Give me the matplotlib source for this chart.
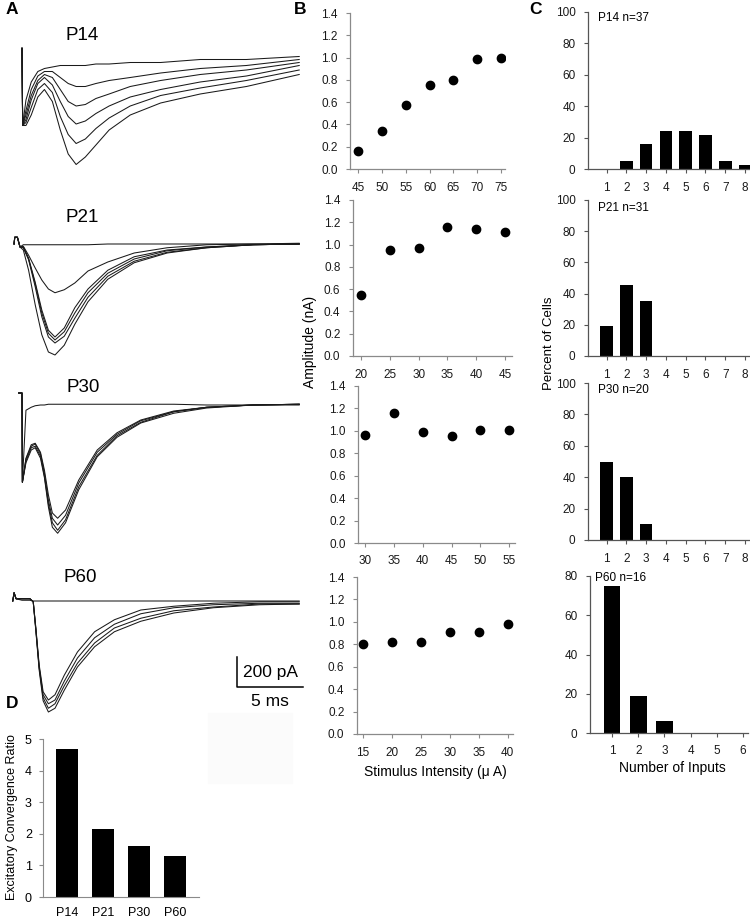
import matplotlib
matplotlib.use('Agg')
import matplotlib.pyplot as plt
from matplotlib.patches import Rectangle

plt.rcParams['font.family'] = ['Liberation Sans', 'DejaVu Sans']

W, H = 750, 917

# ---------------- panel A: evoked currents (time in ms, current in pA vs. baseline)
t_p14 = [0, 0.05, 0.3, 0.7, 1.2, 1.7, 2.3, 2.9, 3.5, 4.1, 4.8, 5.6, 6.6, 8.2, 10.5, 13.5, 17, 21]
p14_traces = [
    [45, -470, -300, -180, -110, -90, -80, -70, -70, -70, -70, -60, -60, -50, -50, -30, -30, -10],
    [45, -470, -370, -230, -140, -110, -110, -150, -190, -210, -210, -190, -170, -150, -120, -90, -70, -30],
    [45, -470, -400, -270, -170, -130, -150, -230, -310, -340, -330, -290, -260, -210, -170, -130, -100, -50],
    [45, -470, -430, -300, -190, -150, -200, -310, -410, -460, -440, -390, -340, -280, -230, -180, -140, -70],
    [45, -470, -450, -350, -230, -190, -250, -410, -530, -590, -560, -490, -420, -340, -270, -220, -170, -100],
    [45, -470, -470, -400, -280, -230, -310, -500, -660, -730, -680, -600, -500, -400, -320, -260, -210, -130],
]

t_p21 = [-0.6, -0.55, -0.35, -0.15, 0.1, 0.5, 1.0, 1.5, 2.0, 2.5, 3.2, 4.0, 5.0, 6.5, 8.5, 11, 14, 17.5, 21]
p21_traces = [
    [0, 45, 45, -20, -5, -5, -5, -5, -5, -5, -5, -5, -5, 0, 0, 0, 0, 0, 5],
    [0, 45, 45, -20, -15, -75, -160, -240, -300, -325, -305, -260, -180, -120, -60, -25, -5, 0, 0],
    [0, 45, 45, -20, -20, -95, -255, -440, -575, -620, -560, -425, -300, -175, -85, -40, -20, -5, 0],
    [0, 45, 45, -20, -20, -100, -265, -460, -595, -640, -585, -460, -325, -195, -100, -45, -20, -5, 0],
    [0, 45, 45, -20, -25, -105, -285, -485, -620, -660, -615, -495, -355, -215, -115, -55, -25, -5, 0],
    [0, 45, 45, -20, -40, -175, -405, -605, -720, -740, -675, -535, -385, -235, -125, -60, -25, -5, 0],
]

t_p30 = [-0.25, 0, 0.03, 0.3, 0.7, 1.0, 1.4, 1.7, 2.0, 2.3, 2.7, 3.3, 4.3, 5.7, 7.2, 9, 11.5, 14, 17.5, 21]
p30_traces = [
    [80, 80, -515, -35, -15, -5, 0, 0, 5, 5, 5, 5, 5, 5, 5, 5, 5, 0, 0, 0],
    [80, 80, -515, -355, -265, -255, -315, -435, -600, -720, -755, -700, -500, -300, -185, -100, -40, -15, 0, 5],
    [80, 80, -515, -360, -275, -260, -325, -455, -635, -755, -800, -735, -520, -315, -195, -105, -45, -15, 0, 5],
    [80, 80, -515, -375, -285, -275, -340, -475, -660, -785, -835, -765, -545, -335, -205, -115, -45, -15, 0, 5],
    [80, 80, -515, -385, -300, -285, -355, -485, -680, -815, -855, -785, -565, -345, -215, -120, -55, -20, 0, 5],
]

t_p60 = [-0.7, -0.6, -0.45, 0, 0.6, 0.85, 1.05, 1.3, 1.6, 2.0, 2.5, 3.2, 4.2, 5.5, 7, 9, 11.5, 14.5, 18, 21]
p60_traces = [
    [0, 55, 15, 5, 5, 0, 0, 0, 0, 0, 0, 0, 0, 0, 0, 0, 0, 0, 0, 0],
    [0, 55, 15, 15, 15, -5, -180, -425, -605, -660, -625, -495, -340, -205, -125, -60, -35, -15, -5, -5],
    [0, 55, 15, 15, 15, -5, -185, -440, -625, -685, -660, -535, -380, -245, -155, -85, -45, -25, -15, -15],
    [0, 55, 15, 15, 15, -5, -195, -445, -645, -715, -685, -565, -415, -280, -180, -115, -65, -40, -20, -20],
    [0, 55, 15, 15, 15, -5, -200, -460, -665, -740, -715, -595, -440, -305, -205, -135, -80, -45, -25, -20],
]

a_ages = ['P14', 'P21', 'P30', 'P60']

# ---------------- panel B: amplitude vs stimulus intensity
b_intensity = [
    [45, 50, 55, 60, 65, 70, 75],
    [20, 25, 30, 35, 40, 45],
    [30, 35, 40, 45, 50, 55],
    [15, 20, 25, 30, 35, 40],
]
b_amplitude = [
    [0.16, 0.34, 0.57, 0.75, 0.80, 0.99, 1.00],
    [0.55, 0.95, 0.97, 1.16, 1.14, 1.11],
    [0.96, 1.16, 0.99, 0.95, 1.01, 1.01],
    [0.80, 0.82, 0.82, 0.91, 0.91, 0.98],
]
b_ticks = [
    [45, 50, 55, 60, 65, 70, 75],
    [20, 25, 30, 35, 40, 45],
    [30, 35, 40, 45, 50, 55],
    [15, 20, 25, 30, 35, 40],
]

# ---------------- panel C: number of inputs per cell
c_inputs = [
    [1, 2, 3, 4, 5, 6, 7, 8],
    [1, 2, 3, 4, 5, 6, 7, 8],
    [1, 2, 3, 4, 5, 6, 7, 8],
    [1, 2, 3, 4, 5, 6],
]
c_percent = [
    [0, 5.4, 16.2, 24.3, 24.3, 21.6, 5.4, 2.7],
    [19.4, 45.2, 35.5, 0, 0, 0, 0, 0],
    [50, 40, 10, 0, 0, 0, 0, 0],
    [75, 18.75, 6.25, 0, 0, 0],
]
c_titles = ['P14 n=37', 'P21 n=31', 'P30 n=20', 'P60 n=16']
c_ymax = [100, 100, 100, 80]

# ---------------- panel D
d_ages = ['P14', 'P21', 'P30', 'P60']
d_ratio = [4.67, 2.15, 1.6, 1.3]


def px_axes(fig, left, top, right, bottom):
    return fig.add_axes([left / W, 1 - bottom / H, (right - left) / W, (bottom - top) / H])


def ftext(fig, x, y, s, **kw):
    return fig.text(x / W, 1 - y / H, s, **kw)


fig = plt.figure(figsize=(W / 100, H / 100), dpi=100)

# faint patch in the original scan
fig.patches.append(Rectangle((208 / W, 1 - 783 / H), 84 / W, 70 / H,
                             transform=fig.transFigure, color='#fbfbfb', zorder=0))

# ---- A
PX_MS = 13.2          # pixels per ms
PA_PX = 200 / 30.0    # pA per pixel
axA = px_axes(fig, 0, 0, 305, 720)
axA.set_xlim(-22 / PX_MS, (305 - 22) / PX_MS)
axA.set_ylim(-720 * PA_PX, 0)
axA.axis('off')
rows_px = [55, 244, 405, 601]
groups = [(t_p14, p14_traces), (t_p21, p21_traces), (t_p30, p30_traces), (t_p60, p60_traces)]
for (tt, traces), row in zip(groups, rows_px):
    off = -row * PA_PX
    for tr in traces:
        axA.plot(tt, [v + off for v in tr], color='#1a1a1a', lw=0.75)

# scale bar: 5 ms x 200 pA
sx = (237 - 22) / PX_MS
sy = -687 * PA_PX
axA.plot([sx, sx, sx + 5], [sy + 200, sy, sy], color='black', lw=1.1)
axA.text(sx + 0.45, sy + 100, '200 pA', fontsize=12.5, ha='left', va='center')
axA.text(sx + 2.5, sy - 95, '5 ms', fontsize=12.5, ha='center', va='center')

for age, (x, y) in zip(a_ages, [(82, 35), (82, 217), (83, 388), (80, 577)]):
    ftext(fig, x, y, age, fontsize=13.5, ha='center', va='center')

# ---- B
b_rows = [(13, 169), (200, 356), (386, 543), (577, 734)]
b_lr = [(350, 505), (353, 512), (358, 515), (357, 513)]
b_xlim = [(43.3, 75.8), (18.6, 46.2), (28.8, 56.0), (13.96, 40.95)]
for i in range(4):
    ax = px_axes(fig, b_lr[i][0], b_rows[i][0], b_lr[i][1], b_rows[i][1])
    ax.plot(b_intensity[i], b_amplitude[i], 'o', color='black', ms=6)
    ax.set_xlim(*b_xlim[i])
    ax.set_ylim(0, 1.4)
    ax.set_xticks(b_ticks[i])
    ax.set_yticks([0, 0.2, 0.4, 0.6, 0.8, 1.0, 1.2, 1.4])
    ax.set_yticklabels(['%.1f' % v for v in ax.get_yticks()])
    for s in ['top', 'right']:
        ax.spines[s].set_visible(False)
    for s in ['left', 'bottom']:
        ax.spines[s].set_color('#8a8a8a')
        ax.spines[s].set_linewidth(0.9)
    ax.tick_params(labelsize=8.5, length=3, color='#8a8a8a', pad=6, labelcolor='#1a1a1a')
    ax.patch.set_alpha(0)

ftext(fig, 310, 342, 'Amplitude (nA)', fontsize=10, rotation=90, ha='center', va='center')
ftext(fig, 435, 772, 'Stimulus Intensity (\u03bc A)', fontsize=10, ha='center', va='center')

# ---- C
c_rows = [(12, 169), (200, 356), (383, 540), (576, 733)]
c_lr = [(588, 750), (588, 750), (588, 750), (590, 748)]
c_xlim = [(0.065, 8.25), (0.065, 8.25), (0.065, 8.25), (0.16, 6.19)]
c_title_px = [(598, 18), (598, 208), (598, 390), (595, 578)]
for i in range(4):
    ax = px_axes(fig, c_lr[i][0], c_rows[i][0], c_lr[i][1], c_rows[i][1])
    ax.bar(c_inputs[i], c_percent[i], width=0.64, color='black')
    ax.set_xlim(*c_xlim[i])
    ax.set_ylim(0, c_ymax[i])
    ax.set_xticks(c_inputs[i])
    ax.set_yticks(range(0, c_ymax[i] + 1, 20))
    for s in ['top', 'right']:
        ax.spines[s].set_visible(False)
    for s in ['left', 'bottom']:
        ax.spines[s].set_color('#555555')
        ax.spines[s].set_linewidth(0.9)
    ax.tick_params(labelsize=8.5, length=3, color='#555555', pad=6, labelcolor='#1a1a1a')
    ax.patch.set_alpha(0)
    ftext(fig, c_title_px[i][0], c_title_px[i][1], c_titles[i], fontsize=8.5, ha='left', va='center')

ftext(fig, 549, 343, 'Percent of Cells', fontsize=9.5, rotation=90, ha='center', va='center')
ftext(fig, 672, 768, 'Number of Inputs', fontsize=10, ha='center', va='center')

# ---- D
axD = px_axes(fig, 43, 739, 199, 897)
axD.bar(range(1, 5), d_ratio, width=0.61, color='black')
axD.set_xlim(0.33, 4.67)
axD.set_ylim(0, 5)
axD.set_xticks(range(1, 5))
axD.set_xticklabels(d_ages)
axD.set_yticks(range(0, 6))
for s in ['top', 'right']:
    axD.spines[s].set_visible(False)
for s in ['left', 'bottom']:
    axD.spines[s].set_color('#8a8a8a')
axD.tick_params(labelsize=9, length=3, color='#8a8a8a', pad=5)
axD.tick_params(axis='x', length=0, pad=7)
ftext(fig, 12, 817, 'Excitatory Convergence Ratio', fontsize=9, rotation=90, ha='center', va='center')

for lab, (x, y) in zip('ABCD', [(12, 10), (300, 10), (535, 10), (12, 703)]):
    ftext(fig, x, y, lab, fontsize=12.5, fontweight='bold', ha='center', va='center')

fig.savefig('out.png', dpi=100)
